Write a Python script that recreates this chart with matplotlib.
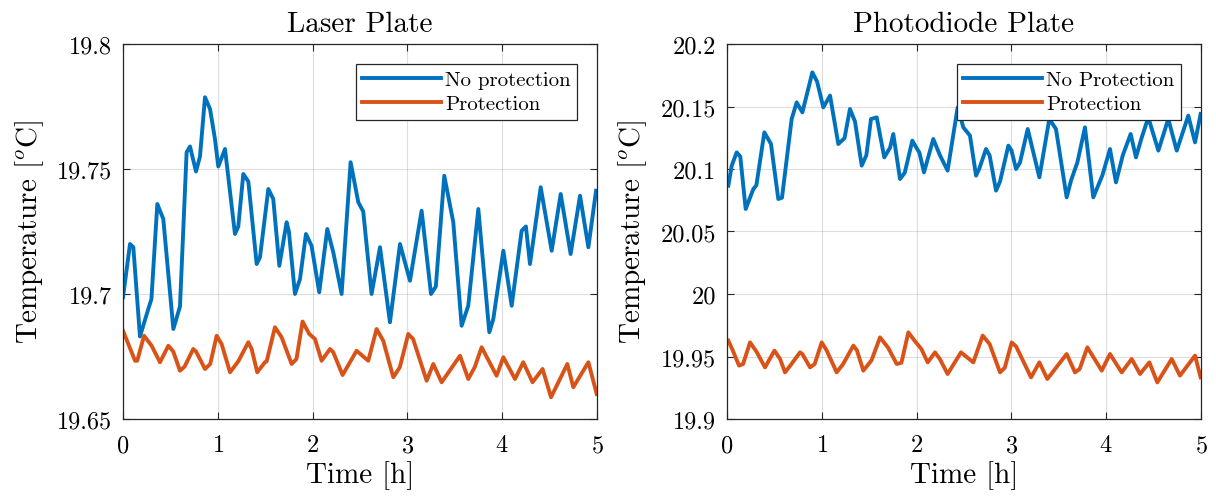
import matplotlib
matplotlib.use("Agg")
import matplotlib.pyplot as plt
from matplotlib.ticker import FuncFormatter

plt.rcParams["font.family"] = ["cmr10", "DejaVu Serif"]
plt.rcParams["mathtext.fontset"] = "cm"
plt.rcParams["axes.unicode_minus"] = False
plt.rcParams["axes.formatter.use_mathtext"] = True

BLUE = "#0072BD"
ORANGE = "#D95319"

# Laser plate, no protection
laser_np_t = [0.00, 0.074, 0.109, 0.179, 0.267, 0.30, 0.362, 0.425, 0.531, 0.601, 0.671, 0.707,
              0.770, 0.812, 0.865, 0.918, 0.97, 1.005, 1.076, 1.181, 1.216, 1.269, 1.322, 1.41,
              1.445, 1.533, 1.585, 1.649, 1.726, 1.75, 1.814, 1.867, 1.93, 1.989, 2.07, 2.155,
              2.218, 2.306, 2.401, 2.482, 2.534, 2.622, 2.711, 2.816, 2.922, 3.027, 3.15, 3.249,
              3.30, 3.389, 3.484, 3.572, 3.642, 3.748, 3.864, 3.906, 4.012, 4.10, 4.205, 4.25,
              4.293, 4.406, 4.522, 4.617, 4.722, 4.821, 4.909, 4.99]
laser_np_v = [19.6987, 19.720, 19.7187, 19.683, 19.694, 19.698, 19.736, 19.730, 19.686, 19.695,
              19.7567, 19.759, 19.749, 19.755, 19.7787, 19.774, 19.762, 19.751, 19.758, 19.724,
              19.727, 19.748, 19.745, 19.712, 19.7147, 19.742, 19.738, 19.7113, 19.7287, 19.725,
              19.700, 19.706, 19.724, 19.7193, 19.7007, 19.726, 19.7167, 19.700, 19.7527, 19.7367,
              19.733, 19.700, 19.7187, 19.6887, 19.720, 19.7053, 19.7333, 19.700, 19.703, 19.7473,
              19.7287, 19.6873, 19.6953, 19.734, 19.6847, 19.690, 19.7173, 19.6953, 19.7253,
              19.727, 19.712, 19.7427, 19.7173, 19.740, 19.716, 19.7393, 19.7187, 19.7413]

# Laser plate, protection
laser_p_t = [0.00, 0.127, 0.15, 0.222, 0.302, 0.39, 0.478, 0.53, 0.601, 0.65, 0.741, 0.77,
             0.865, 0.92, 0.988, 1.04, 1.129, 1.215, 1.322, 1.357, 1.416, 1.497, 1.515, 1.603,
             1.673, 1.779, 1.83, 1.894, 1.965, 2.025, 2.095, 2.183, 2.218, 2.316, 2.464, 2.587,
             2.675, 2.745, 2.851, 2.92, 3.009, 3.06, 3.203, 3.273, 3.361, 3.555, 3.642, 3.71,
             3.783, 3.941, 4.012, 4.135, 4.222, 4.32, 4.426, 4.515, 4.687, 4.75, 4.909, 4.997]
laser_p_v = [19.6853, 19.6733, 19.6733, 19.6833, 19.6793, 19.6727, 19.6793, 19.677, 19.6693,
             19.671, 19.678, 19.677, 19.670, 19.672, 19.6833, 19.680, 19.6687, 19.673, 19.6807,
             19.678, 19.6687, 19.6727, 19.673, 19.6867, 19.6827, 19.672, 19.674, 19.689, 19.684,
             19.682, 19.6733, 19.678, 19.6767, 19.6676, 19.6773, 19.6733, 19.686, 19.6813,
             19.6667, 19.6707, 19.684, 19.682, 19.6653, 19.672, 19.6647, 19.6753, 19.666,
             19.6707, 19.6787, 19.6673, 19.6747, 19.666, 19.6727, 19.6647, 19.670, 19.6587,
             19.672, 19.6627, 19.6727, 19.660]

# Photodiode plate, no protection
photo_np_t = [0.014, 0.05, 0.102, 0.14, 0.197, 0.278, 0.31, 0.394, 0.464, 0.541, 0.58, 0.682,
              0.735, 0.795, 0.86, 0.90, 0.95, 1.016, 1.087, 1.174, 1.24, 1.297, 1.35, 1.421,
              1.47, 1.519, 1.579, 1.659, 1.72, 1.754, 1.825, 1.875, 1.955, 1.99, 2.03, 2.078,
              2.176, 2.246, 2.327, 2.433, 2.493, 2.563, 2.627, 2.66, 2.732, 2.77, 2.838, 2.88,
              2.968, 3.0, 3.049, 3.09, 3.172, 3.21, 3.295, 3.40, 3.47, 3.583, 3.63, 3.696, 3.776,
              3.864, 3.96, 4.04, 4.103, 4.175, 4.258, 4.314, 4.37, 4.444, 4.55, 4.655, 4.744,
              4.866, 4.937, 4.996]
photo_np_v = [20.0867, 20.1027, 20.1133, 20.110, 20.068, 20.084, 20.087, 20.1293, 20.120,
              20.076, 20.077, 20.140, 20.1533, 20.1453, 20.165, 20.1773, 20.170, 20.1493,
              20.1587, 20.120, 20.1247, 20.148, 20.138, 20.1027, 20.111, 20.140, 20.1413,
              20.1093, 20.117, 20.128, 20.092, 20.097, 20.1227, 20.118, 20.113, 20.0973, 20.124,
              20.111, 20.0987, 20.1493, 20.1333, 20.1267, 20.0947, 20.100, 20.116, 20.111,
              20.0827, 20.090, 20.1187, 20.115, 20.100, 20.105, 20.132, 20.120, 20.0933, 20.140,
              20.132, 20.0773, 20.091, 20.1053, 20.1333, 20.0773, 20.095, 20.116, 20.0893,
              20.111, 20.128, 20.1093, 20.124, 20.1413, 20.1147, 20.140, 20.1147, 20.1427,
              20.1213, 20.144]

# Photodiode plate, protection
photo_p_t = [0.014, 0.06, 0.127, 0.17, 0.243, 0.31, 0.401, 0.50, 0.56, 0.612, 0.68, 0.77, 0.795,
             0.876, 0.925, 0.999, 1.05, 1.157, 1.225, 1.333, 1.37, 1.438, 1.525, 1.614, 1.70,
             1.79, 1.84, 1.913, 1.985, 2.05, 2.117, 2.194, 2.245, 2.327, 2.468, 2.598, 2.697,
             2.77, 2.88, 2.93, 3.003, 3.05, 3.207, 3.295, 3.379, 3.583, 3.671, 3.72, 3.801,
             3.953, 4.04, 4.163, 4.269, 4.357, 4.455, 4.539, 4.691, 4.778, 4.937, 4.996]
photo_p_v = [19.9627, 19.955, 19.9427, 19.944, 19.9613, 19.954, 19.9413, 19.9547, 19.948,
             19.9373, 19.944, 19.9533, 19.952, 19.9413, 19.944, 19.9613, 19.955, 19.9373,
             19.944, 19.9587, 19.955, 19.9387, 19.947, 19.9653, 19.957, 19.944, 19.945, 19.9693,
             19.962, 19.956, 19.9453, 19.9533, 19.948, 19.936, 19.9533, 19.9453, 19.9667, 19.960,
             19.9373, 19.941, 19.9613, 19.958, 19.9333, 19.9453, 19.932, 19.952, 19.9373, 19.940,
             19.9573, 19.9387, 19.952, 19.9373, 19.948, 19.936, 19.9453, 19.9293, 19.948,
             19.9347, 19.9507, 19.9333]

panels = [
    dict(title="Laser Plate", series=[(laser_np_t, laser_np_v, "No protection", BLUE),
                                      (laser_p_t, laser_p_v, "Protection", ORANGE)],
         ylim=(19.65, 19.8), yticks=[19.65, 19.7, 19.75, 19.8]),
    dict(title="Photodiode Plate", series=[(photo_np_t, photo_np_v, "No Protection", BLUE),
                                           (photo_p_t, photo_p_v, "Protection", ORANGE)],
         ylim=(19.9, 20.2), yticks=[19.9, 19.95, 20, 20.05, 20.1, 20.15, 20.2]),
]

W, H = 1216, 502
fig = plt.figure(figsize=(W / 100, H / 100), dpi=100)
lefts = [123, 727]
for left, p in zip(lefts, panels):
    ax = fig.add_axes([left / W, (H - 420) / H, 474 / W, 375 / H])
    for t, v, lab, col in p["series"]:
        ax.plot(t, v, color=col, lw=2.8, label=lab, solid_joinstyle="round")
    ax.set_xlim(0, 5)
    ax.set_ylim(*p["ylim"])
    ax.set_xticks([0, 1, 2, 3, 4, 5])
    ax.set_yticks(p["yticks"])
    ax.yaxis.set_major_formatter(FuncFormatter(lambda x, pos: f"{x:g}"))
    ax.grid(True, color="#262626", alpha=0.15, lw=0.8)
    ax.set_axisbelow(True)
    ax.tick_params(direction="in", top=True, right=True, length=5, width=0.8,
                   labelsize=17.5, colors="#262626", labelcolor="black")
    ax.tick_params(axis="y", pad=8)
    ax.tick_params(axis="x", pad=11)
    for s in ax.spines.values():
        s.set_linewidth(0.9)
        s.set_color("#262626")
    ax.set_title(p["title"], fontsize=21, pad=9.5)
    ax.set_xlabel("Time [h]", fontsize=21, labelpad=3)
    ax.set_ylabel(r"Temperature [$^o$C]", fontsize=21, labelpad=8)
    leg = ax.legend(loc="upper right", fontsize=15, handlelength=3.8, handletextpad=0.2,
                    borderpad=0.3, labelspacing=0.28, fancybox=False, framealpha=1,
                    borderaxespad=0.96)
    leg.get_frame().set_edgecolor("#262626")
    leg.get_frame().set_linewidth(0.9)

fig.savefig("out.png", dpi=100)
